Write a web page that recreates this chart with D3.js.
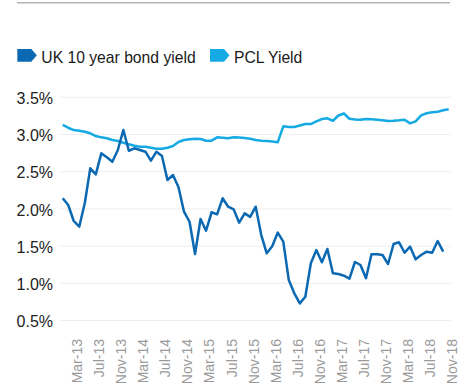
<!DOCTYPE html>
<html><head><meta charset="utf-8">
<script src="https://cdn.jsdelivr.net/npm/d3@7"></script>
<style>
html,body{margin:0;padding:0;background:#fff;}
svg{display:block;font-family:"Liberation Sans",Arial,Helvetica,sans-serif;}
</style></head>
<body>
<svg id="chart" width="465" height="389"></svg>
<script>
const monthNames = ["Jan","Feb","Mar","Apr","May","Jun","Jul","Aug","Sep","Oct","Nov","Dec"];
// Jan-13 .. Nov-18
const months = [];
for (let y = 13; y <= 18; y++) for (let m = 0; m < 12; m++) { if (y === 18 && m > 10) break; months.push(monthNames[m] + "-" + y); }

const bondYield = [2.135,2.045,1.83,1.753,2.068,2.538,2.457,2.739,2.686,2.627,2.784,3.052,2.774,2.807,2.784,2.761,2.64,2.761,2.703,2.381,2.448,2.283,1.955,1.82,1.387,1.857,1.70,1.947,1.92,2.135,2.022,1.987,1.807,1.933,1.885,2.022,1.645,1.396,1.49,1.675,1.552,1.037,0.859,0.724,0.813,1.262,1.44,1.275,1.454,1.127,1.118,1.095,1.055,1.279,1.239,1.06,1.383,1.383,1.373,1.252,1.521,1.544,1.404,1.485,1.315,1.373,1.418,1.404,1.561,1.418];
const pclYield = [3.12,3.083,3.052,3.043,3.03,3.008,2.972,2.954,2.941,2.918,2.905,2.882,2.86,2.842,2.828,2.828,2.815,2.80,2.80,2.815,2.837,2.891,2.918,2.927,2.935,2.931,2.909,2.909,2.954,2.949,2.941,2.954,2.952,2.945,2.936,2.918,2.909,2.905,2.898,2.889,3.102,3.093,3.093,3.113,3.133,3.133,3.167,3.20,3.21,3.177,3.247,3.274,3.204,3.193,3.191,3.20,3.196,3.191,3.183,3.173,3.177,3.183,3.191,3.142,3.169,3.25,3.277,3.29,3.298,3.317,3.33];
const yTicks = [0.5,1.0,1.5,2.0,2.5,3.0,3.5];
const xTickLabels = months.filter((d,i) => i % 4 === 2);
const seriesNames = ["UK 10 year bond yield","PCL Yield"];
const colors = ["#0a69b2","#15aae3"];

const svg = d3.select("#chart");
const x = d3.scalePoint().domain(months).range([62.7, 448.7]);
const y = d3.scaleLinear().domain([0.5, 3.5]).range([320, 96.7]);

// top rule
svg.append("line").attr("x1",17).attr("x2",450).attr("y1",2.7).attr("y2",2.7)
  .attr("stroke","#b3b3b3").attr("stroke-width",1.5);

// gridlines
const yAxis = d3.axisLeft(y).tickValues(yTicks).tickSize(-391).tickFormat(d => d.toFixed(1) + "%");
const gy = svg.append("g").attr("transform","translate(60,0)").call(yAxis);
gy.select(".domain").remove();
gy.selectAll(".tick line").attr("stroke","#eeeeee").attr("stroke-width",1);
gy.selectAll(".tick text").attr("x",-7).attr("dy","0.42em").attr("fill","#222")
  .style("font-size","16px").style("font-family","'Liberation Sans',Arial,sans-serif");

// x axis labels
const xAxis = d3.axisBottom(x).tickValues(xTickLabels).tickSize(0);
const gx = svg.append("g").attr("transform","translate(0,339)").call(xAxis);
gx.select(".domain").remove();
gx.selectAll(".tick text")
  .attr("transform","translate(3,0) rotate(-90)")
  .attr("x",0).attr("y",0).attr("dy","0.35em")
  .attr("text-anchor","end").attr("fill","#9a9a9a")
  .style("font-size","14px").style("font-family","'Liberation Sans',Arial,sans-serif");

// lines
const line = d3.line().x((d,i) => x(months[i])).y(d => y(d));
svg.append("path").datum(pclYield).attr("d",line).attr("fill","none")
  .attr("stroke",colors[1]).attr("stroke-width",2.5).attr("stroke-linejoin","round");
svg.append("path").datum(bondYield).attr("d",line).attr("fill","none")
  .attr("stroke",colors[0]).attr("stroke-width",2.5).attr("stroke-linejoin","round");

// legend
const legendX = [17.3, 210];
seriesNames.forEach((name, k) => {
  const lx = legendX[k];
  svg.append("path")
    .attr("d", `M${lx},49 L${lx+14},49 L${lx+19.5},55.3 L${lx+14},61.7 L${lx},61.7 Z`)
    .attr("fill", colors[k]);
  svg.append("text").attr("x", lx + 24).attr("y", 62.5).text(name)
    .attr("fill","#1a1a1a").style("font-size","15.7px");
});
</script>
</body></html>
